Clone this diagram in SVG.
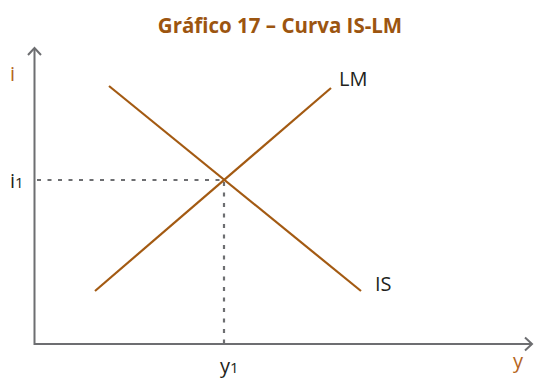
<svg xmlns="http://www.w3.org/2000/svg" width="534" height="378" viewBox="0 0 534 378">
<style>
.axis{stroke:#6d6e71;stroke-width:2;fill:none}
.curve{stroke:#a35a12;stroke-width:2.2;fill:none}
.dash{stroke:#6d6e71;stroke-width:2.2;stroke-dasharray:4 6.5;fill:none}
.lbl{font-family:"Open Sans","Liberation Sans",sans-serif;font-size:20px;fill:#231f20}
.albl{font-family:"Open Sans","Liberation Sans",sans-serif;font-size:20px;fill:#b5651d}
.sub{font-size:15px}
.title{font-family:"Open Sans","Liberation Sans",sans-serif;font-size:20.5px;font-weight:bold;fill:#9c5510}
</style>
<rect width="534" height="378" fill="#fff"/>
<text class="title" x="280" y="33" text-anchor="middle">Gráfico 17 – Curva IS-LM</text>
<g id="axes">
<polyline class="axis" points="34.5,49 34.5,344 532,344"/>
<polyline class="axis" points="28,55 34.5,48 41,55"/>
<polyline class="axis" points="525,337.5 532,344 525,350.5"/>
</g>
<g id="connectors">
<line class="dash" x1="37" y1="180" x2="224" y2="180"/>
<line class="dash" x1="224" y1="182" x2="224" y2="343"/>
</g>
<g id="IS"><line class="curve" x1="109" y1="86" x2="361" y2="291"/><text class="lbl" x="375" y="291">IS</text></g>
<g id="LM"><line class="curve" x1="95" y1="291" x2="331" y2="88"/><text class="lbl" x="339" y="86">LM</text></g>
<g id="labels">
<text class="albl" x="10" y="81">i</text>
<text class="lbl" x="10" y="188">i<tspan class="sub">1</tspan></text>
<text class="lbl" x="220" y="373">y<tspan class="sub">1</tspan></text>
<text class="albl" x="513" y="368">y</text>
</g>
</svg>
